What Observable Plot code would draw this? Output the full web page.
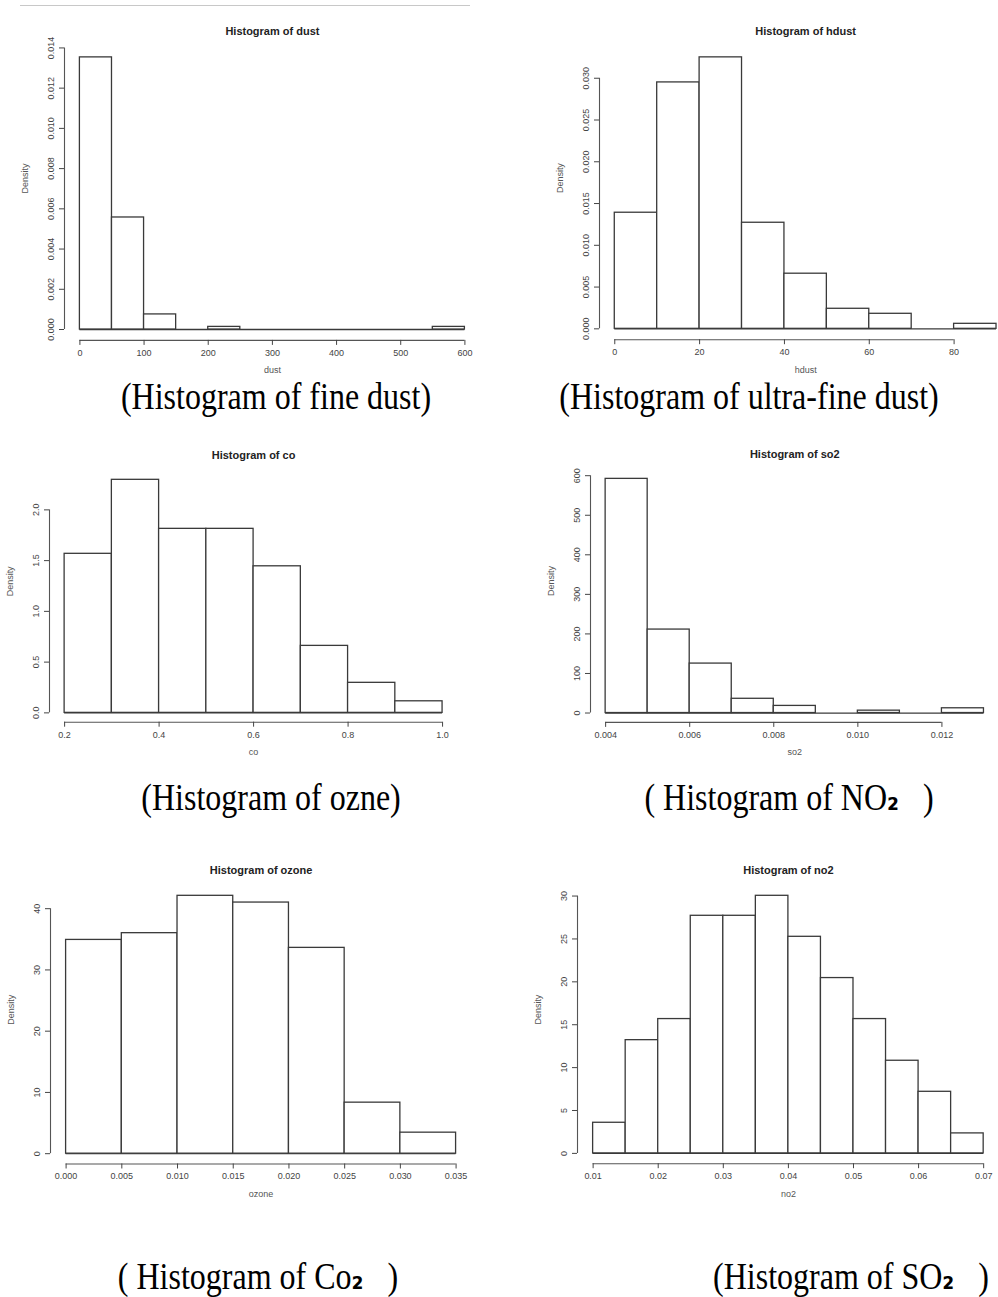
<!DOCTYPE html>
<html>
<head>
<meta charset="utf-8">
<script src="https://cdn.jsdelivr.net/npm/d3@7"></script>
<script src="https://cdn.jsdelivr.net/npm/@observablehq/plot@0.6"></script>
<style>
html, body { margin: 0; padding: 0; width: 998px; height: 1297px; overflow: hidden; background: #fff; }
#page { position: relative; width: 998px; height: 1297px; overflow: hidden; }
.cap { position: absolute; font-family: "Liberation Serif", "Times New Roman", serif; font-size: 32px; color: #000;
       white-space: pre; line-height: 1; transform: translate(-50%, -50%) scaleY(1.2); }
.cap .sub { font-family: "DejaVu Sans", sans-serif; font-weight: bold; font-size: 0.85em; line-height: 1; }
.sep { position: absolute; height: 1px; background: #c8c8c8; }
</style>
</head>
<body>
<div id="page"></div>
<script>
// ---------- data ----------
const dustBreaks  = [0, 50, 100, 150, 200, 250, 300, 350, 400, 450, 500, 550, 600];
const dustDensity = [0.01353, 0.00557, 0.00075, 0, 0.00013, 0, 0, 0, 0, 0, 0, 0.00013];
const dustXTicks  = [0, 100, 200, 300, 400, 500, 600];
const dustXLabels = ["0", "100", "200", "300", "400", "500", "600"];
const dustYTicks  = [0, 0.002, 0.004, 0.006, 0.008, 0.010, 0.012, 0.014];
const dustYLabels = ["0.000", "0.002", "0.004", "0.006", "0.008", "0.010", "0.012", "0.014"];

const hdustBreaks  = [0, 10, 20, 30, 40, 50, 60, 70, 80, 90];
const hdustDensity = [0.0139, 0.0295, 0.0325, 0.0127, 0.0066, 0.0024, 0.0018, 0, 0.0006];
const hdustXTicks  = [0, 20, 40, 60, 80];
const hdustXLabels = ["0", "20", "40", "60", "80"];
const hdustYTicks  = [0, 0.005, 0.010, 0.015, 0.020, 0.025, 0.030];
const hdustYLabels = ["0.000", "0.005", "0.010", "0.015", "0.020", "0.025", "0.030"];

const coBreaks  = [0.2, 0.3, 0.4, 0.5, 0.6, 0.7, 0.8, 0.9, 1.0];
const coDensity = [1.567, 2.296, 1.813, 1.813, 1.444, 0.66, 0.296, 0.114];
const coXTicks  = [0.2, 0.4, 0.6, 0.8, 1.0];
const coXLabels = ["0.2", "0.4", "0.6", "0.8", "1.0"];
const coYTicks  = [0, 0.5, 1.0, 1.5, 2.0];
const coYLabels = ["0.0", "0.5", "1.0", "1.5", "2.0"];

const so2Breaks  = [0.004, 0.005, 0.006, 0.007, 0.008, 0.009, 0.010, 0.011, 0.012, 0.013];
const so2Density = [592, 211, 125, 36, 18, 0, 6, 0, 12];
const so2XTicks  = [0.004, 0.006, 0.008, 0.010, 0.012];
const so2XLabels = ["0.004", "0.006", "0.008", "0.010", "0.012"];
const so2YTicks  = [0, 100, 200, 300, 400, 500, 600];
const so2YLabels = ["0", "100", "200", "300", "400", "500", "600"];

const ozoneBreaks  = [0, 0.005, 0.010, 0.015, 0.020, 0.025, 0.030, 0.035];
const ozoneDensity = [34.9, 36.0, 42.1, 41.0, 33.6, 8.33, 3.43];
const ozoneXTicks  = [0, 0.005, 0.010, 0.015, 0.020, 0.025, 0.030, 0.035];
const ozoneXLabels = ["0.000", "0.005", "0.010", "0.015", "0.020", "0.025", "0.030", "0.035"];
const ozoneYTicks  = [0, 10, 20, 30, 40];
const ozoneYLabels = ["0", "10", "20", "30", "40"];

const no2Breaks  = [0.010, 0.015, 0.020, 0.025, 0.030, 0.035, 0.040, 0.045, 0.050, 0.055, 0.060, 0.065, 0.070];
const no2Density = [3.57, 13.2, 15.66, 27.7, 27.7, 30.03, 25.25, 20.44, 15.66, 10.8, 7.18, 2.33];
const no2XTicks  = [0.01, 0.02, 0.03, 0.04, 0.05, 0.06, 0.07];
const no2XLabels = ["0.01", "0.02", "0.03", "0.04", "0.05", "0.06", "0.07"];
const no2YTicks  = [0, 5, 10, 15, 20, 25, 30];
const no2YLabels = ["0", "5", "10", "15", "20", "25", "30"];

const titles   = ["Histogram of dust", "Histogram of hdust", "Histogram of co", "Histogram of so2", "Histogram of ozone", "Histogram of no2"];
const xlabs    = ["dust", "hdust", "co", "so2", "ozone", "no2"];
// caption parts: [text before subscript, subscript, text after]
const captions = [
  ["(Histogram of fine dust)", "", ""],
  ["(Histogram of ultra-fine dust)", "", ""],
  ["(Histogram of ozne)", "", ""],
  ["( Histogram of NO", "\u2082", "   )"],
  ["( Histogram of Co", "\u2082", "   )"],
  ["(Histogram of SO", "\u2082", "   )"]
];

// ---------- layout (page pixel positions of each plot frame, and caption centres) ----------
const frames = [
  [63.6, 479.4, 46.3, 340.2],
  [598.7, 1011, 46.0, 339.2],
  [49.2, 457.4, 469.9, 721.6],
  [589.6, 998.2, 468.8, 721.7],
  [50.1, 471.3, 884.5, 1163],
  [577.1, 998.9, 885.4, 1163.6]
];
const capPos = [[276, 396], [749, 396], [271, 797], [789, 797], [258, 1276], [851, 1276]];

const series = [
  [dustBreaks, dustDensity, dustXTicks, dustXLabels, dustYTicks, dustYLabels],
  [hdustBreaks, hdustDensity, hdustXTicks, hdustXLabels, hdustYTicks, hdustYLabels],
  [coBreaks, coDensity, coXTicks, coXLabels, coYTicks, coYLabels],
  [so2Breaks, so2Density, so2XTicks, so2XLabels, so2YTicks, so2YLabels],
  [ozoneBreaks, ozoneDensity, ozoneXTicks, ozoneXLabels, ozoneYTicks, ozoneYLabels],
  [no2Breaks, no2Density, no2XTicks, no2XLabels, no2YTicks, no2YLabels]
];

const page = document.getElementById("page");

// thin separator line at the very top
const sep = document.createElement("div");
sep.className = "sep";
sep.style.left = "20px"; sep.style.top = "5px"; sep.style.width = "450px";
page.appendChild(sep);

const ink = "#3a3a3a";

series.forEach(([breaks, density, xTicks, xLabels, yTicks, yLabels], k) => {
  const [fx0, fx1, fy0, fy1] = frames[k];
  const mL = 62, mR = 14, mT = 42, mB = 50;
  const W = fx1 - fx0 + mL + mR, H = fy1 - fy0 + mT + mB;
  const n = breaks.length - 1;
  const span = breaks[n] - breaks[0];
  const xdom = [breaks[0] - 0.04 * span, breaks[n] + 0.04 * span];
  const maxD = d3.max(density);
  const ydom = [-0.04 * maxD, 1.04 * maxD];
  const bins = density.map((d, i) => ({x1: breaks[i], x2: breaks[i + 1], d}));
  const fx = v => xLabels[xTicks.indexOf(v)];
  const fy = v => yLabels[yTicks.indexOf(v)];

  const svg = Plot.plot({
    width: W, height: H,
    marginLeft: mL, marginRight: mR, marginTop: mT, marginBottom: mB,
    x: {domain: xdom, label: null},
    y: {domain: ydom, label: null},
    style: {fontFamily: "'Liberation Sans', Arial, sans-serif", background: "transparent", color: "#444", overflow: "visible"},
    marks: [
      // zero-height bins (R draws them as a flat line on the baseline)
      Plot.ruleY([0], {x1: breaks[0], x2: breaks[n], stroke: ink, strokeWidth: 1.3}),
      Plot.rect(bins.filter(b => b.d > 0), {x1: "x1", x2: "x2", y1: 0, y2: "d", fill: "white", stroke: ink, strokeWidth: 1.3}),
      // axis lines spanning first..last tick
      Plot.ruleY([ydom[0]], {x1: xTicks[0], x2: xTicks[xTicks.length - 1], stroke: "#555", strokeWidth: 1.1}),
      Plot.ruleX([xdom[0]], {y1: yTicks[0], y2: yTicks[yTicks.length - 1], stroke: "#555", strokeWidth: 1.1}),
      Plot.axisX({ticks: xTicks, tickFormat: fx, tickSize: 5, tickPadding: 4, fontSize: 9, label: null}),
      Plot.axisY({ticks: yTicks, tickFormat: fy, tickSize: 5, tickPadding: 6, tickRotate: -90, fontSize: 9, label: null}),
      Plot.text([titles[k]], {text: d => d, frameAnchor: "top", dy: -19, fontWeight: "bold", fontSize: 11, fill: "#222"}),
      Plot.text([xlabs[k]], {text: d => d, frameAnchor: "bottom", dy: 33, fontSize: 9, fill: "#555"}),
      Plot.text(["Density"], {text: d => d, frameAnchor: "left", dx: -39, rotate: -90, fontSize: 9, fill: "#555"})
    ]
  });
  svg.style.position = "absolute";
  svg.style.left = (fx0 - mL) + "px";
  svg.style.top = (fy0 - mT) + "px";
  page.appendChild(svg);

  const cap = document.createElement("div");
  cap.className = "cap";
  const [pre, sub, post] = captions[k];
  cap.appendChild(document.createTextNode(pre));
  if (sub) {
    const s = document.createElement("span");
    s.className = "sub";
    s.textContent = sub;
    cap.appendChild(s);
  }
  if (post) cap.appendChild(document.createTextNode(post));
  cap.style.left = capPos[k][0] + "px";
  cap.style.top = capPos[k][1] + "px";
  page.appendChild(cap);
});
</script>
</body>
</html>
